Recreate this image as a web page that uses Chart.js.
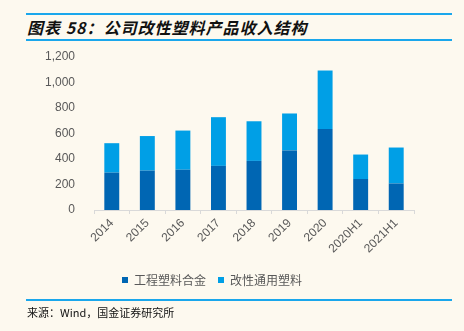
<!DOCTYPE html>
<html>
<head>
<meta charset="utf-8">
<script src="https://cdn.jsdelivr.net/npm/chart.js@4"></script>
<style>
  html, body { margin: 0; padding: 0; background: #fdf9ef; }
  #wrap { position: relative; width: 464px; height: 331px; overflow: hidden; }
  .rule { position: absolute; left: 26px; width: 426px; height: 2px; background: #1aa7ec; }
  #title { position: absolute; left: 27px; top: 15px; font: italic bold 16px "Noto Sans CJK SC", sans-serif; color: #111; letter-spacing: 1px; }
  #source { position: absolute; left: 27px; top: 304px; font: 11px "Noto Sans CJK SC", sans-serif; color: #111; }
  #chartBox { position: absolute; left: 0; top: 0; width: 464px; height: 300px; }
</style>
</head>
<body>
<div id="wrap">
  <div class="rule" style="top:13px"></div>
  <div id="title">图表 58：公司改性塑料产品收入结构</div>
  <div class="rule" style="top:39px"></div>
  <div id="chartBox"><canvas id="revChart"></canvas></div>
  <div class="rule" style="top:299px"></div>
  <div id="source">来源：Wind，国金证券研究所</div>
</div>
<script>
const years = ['2014', '2015', '2016', '2017', '2018', '2019', '2020', '2020H1', '2021H1'];
const alloyRevenue = [293, 309, 316, 346, 385, 467, 635, 243, 208];
const generalRevenue = [231, 271, 307, 382, 311, 290, 459, 192, 282];
const yTicks = [0, 200, 400, 600, 800, 1000, 1200];

const ctx = document.getElementById('revChart').getContext('2d');
const revChart = new Chart(ctx, {
  type: 'bar',
  data: {
    labels: years,
    datasets: [{
      label: '工程塑料合金',
      data: alloyRevenue,
      backgroundColor: '#0066b3',
      barPercentage: 0.42,
      categoryPercentage: 1
    }, {
      label: '改性通用塑料',
      data: generalRevenue,
      backgroundColor: '#009fe6',
      barPercentage: 0.42,
      categoryPercentage: 1
    }]
  },
  options: {
    responsive: true,
    maintainAspectRatio: false,
    animation: false,
    layout: {
      padding: { left: 10, right: 50, top: 57, bottom: 4 }
    },
    scales: {
      x: {
        stacked: true,
        grid: {
          display: true,
          drawOnChartArea: false,
          offset: true,
          tickLength: 4,
          color: '#d9d9d9'
        },
        border: { color: '#d9d9d9' },
        ticks: {
          color: '#595959',
          font: { family: 'Liberation Sans', size: 12 },
          maxRotation: 45,
          minRotation: 45,
          padding: 2
        },
        afterFit: function(scale) { scale.height = 52; }
      },
      y: {
        stacked: true,
        min: 0,
        max: 1200,
        afterBuildTicks: function(scale) {
          scale.ticks = yTicks.map(v => ({ value: v }));
        },
        grid: { display: false },
        border: { display: false },
        ticks: {
          color: '#595959',
          font: { family: 'Liberation Sans', size: 12 },
          padding: 11,
          callback: function(value) { return value.toLocaleString('en-US'); }
        },
        afterFit: function(scale) { scale.width = 84; }
      }
    },
    plugins: {
      legend: {
        position: 'bottom',
        labels: {
          boxWidth: 6,
          boxHeight: 6,
          padding: 12,
          color: '#595959',
          font: { family: 'Noto Sans CJK SC', size: 12 }
        }
      },
      tooltip: { enabled: false }
    }
  }
});
</script>
</body>
</html>
